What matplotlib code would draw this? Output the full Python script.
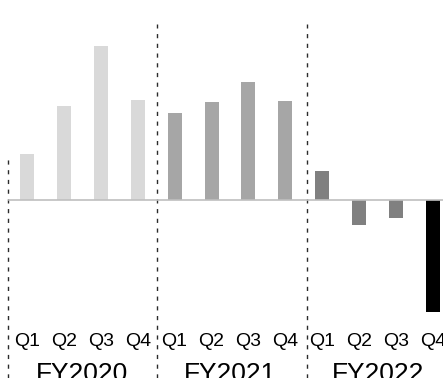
import matplotlib
matplotlib.use("Agg")
import matplotlib.pyplot as plt
from matplotlib.transforms import blended_transform_factory

plt.rcParams['font.family'] = ['Liberation Sans', 'DejaVu Sans']

years = ["FY2020", "FY2021", "FY2022"]
quarters = ["Q1", "Q2", "Q3", "Q4"]
values = [46, 94, 154, 100,
          87, 98, 118, 99,
          29, -25, -18, -112]
colors = ["#D9D9D9"] * 4 + ["#A6A6A6"] * 4 + ["#808080"] * 3 + ["#000000"]

fig = plt.figure(figsize=(4.43, 3.78), dpi=100)
ax = fig.add_axes([0, 0, 1, 1])
ax.set_axis_off()

x = list(range(len(values)))
ax.bar(x, values, width=0.38, color=colors, zorder=2)

ax.set_xlim(-0.732, 11.273)
ax.set_ylim(-178, 200)

# baseline at zero
ax.plot([-0.5, 11.273], [0, 0], color="#BFBFBF", lw=1.2, zorder=3)

trans = blended_transform_factory(ax.transData, ax.transAxes)

# dashed year separators
sep_x = [-0.507, 3.53, 7.58]
sep_top = [0.579, 0.937, 0.937]
for sx, top in zip(sep_x, sep_top):
    ax.plot([sx, sx], [0, top], transform=trans, color="#2B2B2B",
            lw=1.0, linestyle=(0, (3, 4)), zorder=1)

# quarter and fiscal-year labels
for i in x:
    ax.text(i, 0.085, quarters[i % 4], transform=trans, ha="center",
            va="baseline", fontsize=14, color="#000000")
for k, yr in enumerate(years):
    ax.text(4 * k + 1.5, -0.008, yr, transform=trans, ha="center",
            va="baseline", fontsize=19, color="#000000")

fig.savefig("out.png", dpi=100)
